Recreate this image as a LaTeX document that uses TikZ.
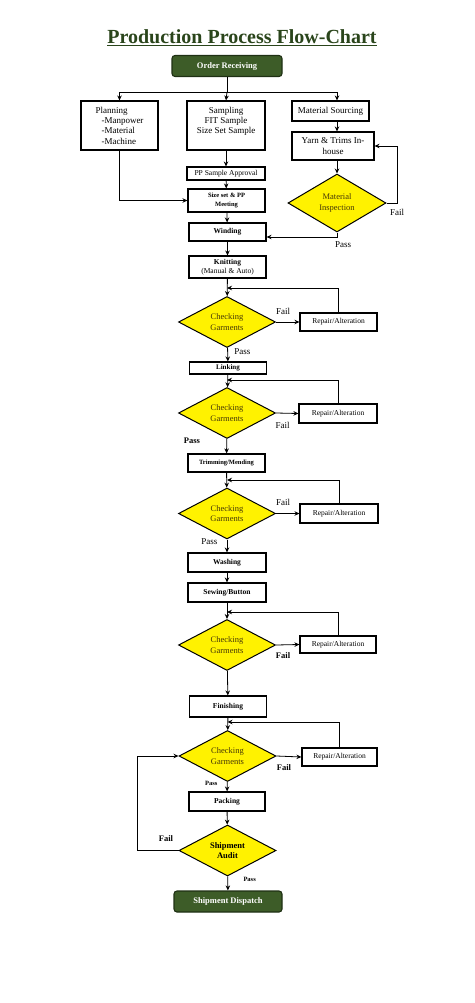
\documentclass[tikz,border=0pt]{standalone}
\usepackage{fontspec}
\setmainfont{Liberation Serif}
\usetikzlibrary{shapes.geometric,arrows.meta}
\definecolor{darkleaf}{HTML}{3D5C28}
\definecolor{leafline}{HTML}{1F3014}
\definecolor{titlegreen}{HTML}{2A451B}
\definecolor{olivetext}{HTML}{463808}
\tikzset{
  >={Stealth[length=5pt,width=4.5pt]},
  flow/.style={draw=black,line width=0.8pt},
  procbox/.style={draw=black,line width=1.1pt,fill=white,inner sep=1pt,align=center,font=\fontsize{9}{10.3}\selectfont},
  boldbox/.style={procbox,font=\fontsize{7.5}{9}\selectfont\bfseries},
  endbox/.style={draw=leafline,line width=1.1pt,fill=darkleaf,rounded corners=3pt,text=white,font=\fontsize{8.5}{10}\selectfont\bfseries},
  checkbox/.style={diamond,draw=black,line width=1pt,fill=yellow,inner sep=0pt,aspect=2,minimum width=97pt,minimum height=51pt,align=center,text=olivetext,font=\fontsize{8.5}{10.5}\selectfont},
  repairbox/.style={procbox,font=\fontsize{7.5}{9}\selectfont},
  tag/.style={font=\fontsize{9}{10}\selectfont},
  boldtag/.style={font=\fontsize{8.5}{10}\selectfont\bfseries}
}
\begin{document}
\begin{tikzpicture}[x=1pt,y=-1pt]
  \useasboundingbox (0,0) rectangle (474,1003);
  \node[text=titlegreen,font=\fontsize{20}{23}\selectfont\bfseries] (title) at (242,38) {\underline{Production Process Flow-Chart}};

  % top part
  \node[endbox,minimum width=110pt,minimum height=21pt] (order) at (227,66) {Order Receiving};
  \node[procbox,minimum width=77pt,minimum height=49pt,align=left] (plan) at (119.5,125.5)
    {Planning\\\hspace*{6pt}-Manpower\\\hspace*{6pt}-Material\\\hspace*{6pt}-Machine};
  \node[procbox,minimum width=78pt,minimum height=49pt] (samp) at (226,125.5)
    {Sampling\\FIT Sample\\Size Set Sample\\\mbox{}};
  \node[procbox,minimum width=77pt,minimum height=20pt] (msrc) at (330.5,111) {Material Sourcing};
  \node[procbox,minimum width=82pt,minimum height=28pt] (yarn) at (333,146) {Yarn \& Trims In-\\house};
  \node[checkbox,minimum width=98pt,minimum height=58pt] (insp) at (337,203) {Material\\Inspection};
  \node[procbox,minimum width=78pt,minimum height=13pt,font=\fontsize{7.5}{9}\selectfont] (ppapp) at (226,173.5) {PP Sample Approval};
  \node[boldbox,minimum width=77pt,minimum height=23pt,font=\fontsize{6.5}{8.5}\selectfont\bfseries] (meet) at (226.5,200.5) {Size set \& PP\\Meeting};
  \node[boldbox,minimum width=77pt,minimum height=18pt] (wind) at (227.5,232) {Winding};
  \node[boldbox,minimum width=77pt,minimum height=22pt] (knit) at (227.5,267)
    {Knitting\\\mdseries(Manual \& Auto)};

  \coordinate (split) at (227,92);
  \coordinate (srcx) at (337,92);
  \coordinate (failr) at (397,203);
  \coordinate (passc) at (337,237);
  \draw[flow] (order) -- (split);
  \draw[flow,->] (split) -| (plan.north);
  \draw[flow,->] (split) -- (samp.north);
  \draw[flow,->] (split) -- (srcx) -- (srcx|-msrc.north);
  \draw[flow,->] (srcx|-msrc.south) -- (srcx|-yarn.north);
  \draw[flow,->] (srcx|-yarn.south) -- (insp.north);
  \draw[flow,->] (insp.east) -- (failr) |- (yarn.east);
  \node[tag,below=3pt] (failtag0) at (failr) {Fail};
  \draw[flow,->] (insp.south) -- (passc) -- (passc-|wind.east);
  \node[tag] (passtag0) at (343,245) {Pass};
  \draw[flow,->] (samp) -- (ppapp);
  \draw[flow,->] (ppapp) -- (meet);
  \draw[flow,->] (plan.south) |- (meet.west);
  \draw[flow,->] (meet) -- (wind);
  \draw[flow,->] (wind) -- (knit);

  % checking stages
  \node[checkbox] (chk1) at (227,322) {Checking\\Garments};
  \node[repairbox,minimum width=77pt,minimum height=18pt] (rep1) at (338.5,322) {Repair/Alteration};
  \node[boldbox,minimum width=77pt,minimum height=12pt,font=\fontsize{7}{8}\selectfont\bfseries] (link) at (228,368) {Linking};
  \node[checkbox] (chk2) at (227,413) {Checking\\Garments};
  \node[repairbox,minimum width=78pt,minimum height=19pt] (rep2) at (338,413.5) {Repair/Alteration};
  \node[boldbox,minimum width=77pt,minimum height=18pt,font=\fontsize{6.5}{8}\selectfont\bfseries] (trim) at (226.5,463) {Trimming/Mending};
  \node[checkbox] (chk3) at (227,513.5) {Checking\\Garments};
  \node[repairbox,minimum width=78pt,minimum height=19pt] (rep3) at (339,513.5) {Repair/Alteration};
  \node[boldbox,minimum width=78pt,minimum height=19pt] (wash) at (227,562.5) {Washing};
  \node[boldbox,minimum width=78pt,minimum height=19pt] (sew) at (227,592.5) {Sewing/Button};
  \node[checkbox] (chk4) at (227,645) {Checking\\Garments};
  \node[repairbox,minimum width=76pt,minimum height=17pt] (rep4) at (338,644.5) {Repair/Alteration};
  \node[boldbox,minimum width=77pt,minimum height=21pt] (fin) at (228,706.5) {Finishing};
  \node[checkbox] (chk5) at (227.5,756) {Checking\\Garments};
  \node[repairbox,minimum width=75pt,minimum height=18pt] (rep5) at (339.5,757) {Repair/Alteration};
  \node[boldbox,minimum width=76pt,minimum height=19pt] (pack) at (227,801.5) {Packing};
  \node[checkbox,text=black,font=\fontsize{8.5}{10.5}\selectfont\bfseries] (audit) at (227.5,850.5) {Shipment\\Audit};
  \node[endbox,minimum width=108pt,minimum height=21pt] (disp) at (228,901.5) {Shipment Dispatch};

  \coordinate (j1) at (227,288);
  \coordinate (j2) at (227,380);
  \coordinate (j3) at (227,480);
  \coordinate (j4) at (227,612);
  \coordinate (j5) at (227.5,722);
  \coordinate (failL) at (137,850.5);

  \draw[flow,->] (knit) -- (chk1);
  \draw[flow,->] (chk1.east) -- (rep1.west) node[tag,pos=0.3,above=4pt] (failtag1) {Fail};
  \draw[flow,->] (rep1.north) |- (j1);
  \draw[flow,->] (chk1) -- (link) node[tag,pos=0.3,right=3pt] (passtag1) {Pass};

  \draw[flow,->] (link) -- (chk2);
  \draw[flow,->] (chk2.east) -- (rep2.west) node[tag,pos=0.3,below=5pt] (failtag2) {Fail};
  \draw[flow,->] (rep2.north) |- (j2);
  \draw[flow,->] (chk2) -- (trim) node[boldtag,pos=0.15,left=23pt] (passtag2) {Pass};

  \draw[flow,->] (trim) -- (chk3);
  \draw[flow,->] (chk3.east) -- (rep3.west) node[tag,pos=0.3,above=4pt] (failtag3) {Fail};
  \draw[flow,->] (rep3.north) |- (j3);
  \draw[flow,->] (chk3) -- (wash) node[tag,pos=0.15,left=6pt] (passtag3) {Pass};

  \draw[flow,->] (wash) -- (sew);
  \draw[flow,->] (sew) -- (chk4);
  \draw[flow,->] (chk4.east) -- (rep4.west) node[boldtag,pos=0.3,below=4pt] (failtag4) {Fail};
  \draw[flow,->] (rep4.north) |- (j4);
  \draw[flow,->] (chk4) -- (fin);

  \draw[flow,->] (fin) -- (chk5);
  \draw[flow,->] (chk5.east) -- (rep5.west) node[boldtag,pos=0.3,below=5pt] (failtag5) {Fail};
  \draw[flow,->] (rep5.north) |- (j5);
  \draw[flow,->] (chk5) -- (pack) node[boldtag,font=\fontsize{6.5}{8}\selectfont\bfseries,pos=0.2,left=6pt] (passtag5) {Pass};

  \draw[flow,->] (pack) -- (audit);
  \draw[flow,->] (audit.west) -- (failL) |- (chk5.west);
  \node[boldtag] (failtag6) at (166,839) {Fail};
  \draw[flow,->] (audit) -- (disp) node[boldtag,font=\fontsize{6.5}{8}\selectfont\bfseries,pos=0.2,right=12pt] (passtag6) {Pass};
\end{tikzpicture}
\end{document}
